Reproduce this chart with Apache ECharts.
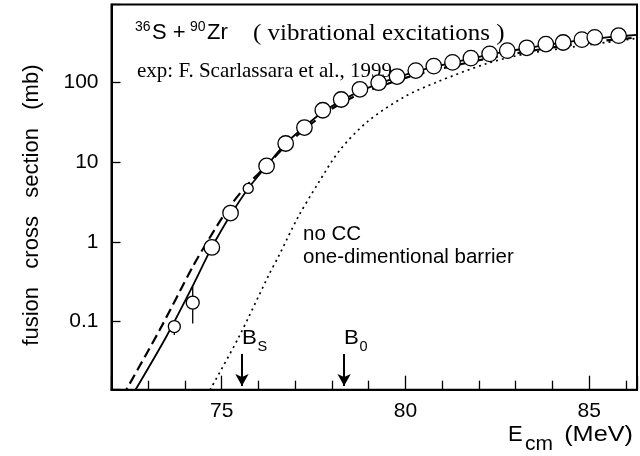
<!DOCTYPE html>
<html><head><meta charset="utf-8">
<script src="https://cdn.jsdelivr.net/npm/echarts@6/dist/echarts.min.js"></script>
<style>html,body{margin:0;padding:0;background:#fff}#c{width:640px;height:456px}</style>
</head><body><div id="c"></div>
<script>
// ---- data ----
const expE = [73.71,74.21,74.73,75.24,75.72,76.22,76.74,77.25,77.75,78.25,78.76,79.27,79.77,80.28,80.77,81.28,81.78,82.29,82.77,83.30,83.82,84.29,84.80,85.15,85.80];
const expSigma = [0.087,0.173,0.85,2.29,4.65,8.9,17.0,26.9,44.3,60.4,81,98,117,139,158,176,199,225,247,268,298,312,339,362,380];
const errE = [73.71,74.21];
const errLow = [0.068,0.095];
const errHigh = [0.087,0.274];

const ccE = [72.6,73.49,74.2,74.73,75.24,75.72,76.22,76.74,77.25,77.75,78.25,78.76,79.27,79.77,80.28,80.77,81.28,81.78,82.29,82.77,83.3,83.82,84.29,84.8,85.3,85.8,86.3];
const ccSigma = [0.0128,0.0649,0.274,0.85,2.16,4.65,8.9,17.0,27.5,42,58,77,95,114,135,155,174,196,220,242,265,290,310,335,355,372,388];

const cc2E = [72.3,73.31,74.21,74.66,75.2,75.69,76.19,76.74,77.25,77.75,78.25,78.76,79.27,79.77,80.28,80.77,81.28,81.78,82.29,82.77,83.3,83.82,84.29,84.8,85.3,85.8,86.3];
const cc2Sigma = [0.0116,0.0787,0.487,1.10,2.69,5.12,8.66,16.0,25.5,39,54,71,87,104,123,141,158,178,199,219,240,263,283,305,325,343,360];

const noccE = [74.6,75.47,76.28,76.54,77.08,77.62,78.21,78.97,79.96,80.86,82.21,83.29,84.64,86.3];
const noccSigma = [0.012,0.0649,0.384,0.65,2.05,5.37,14.0,32,64.9,100,170,226,278,352];

const barrierE = [75.55, 78.33];
const barrierNames = ['S', '0'];
const arrowTop = 0.0394, arrowEnd = 0.0157;

const xTicks = [75, 80, 85];
const xTickLabels = ['75', '80', '85'];
const yTicks = [0.1, 1, 10, 100];
const yTickLabels = ['0.1', '1', '10', '100'];

const xRange = [72, 86.3];
const yRange = [0.01409, 933];

// ---- chart ----
const SANS = '"Liberation Sans", Arial, sans-serif';
const SERIF = '"Liberation Serif", "Times New Roman", serif';
const zip = (a, b) => a.map((v, i) => [v, b[i]]);

const chart = echarts.init(document.getElementById('c'), null, {renderer: 'canvas'});

function tickFmt(ticks, labels, log) {
  return v => {
    for (let i = 0; i < ticks.length; i++) {
      const d = log ? Math.abs(Math.log10(v) - Math.log10(ticks[i])) : Math.abs(v - ticks[i]);
      if (d < 1e-6) return labels[i];
    }
    return '';
  };
}
function txt(x, y, text, size, family, extra, align) {
  return Object.assign({type: 'text', x: x, y: y,
    style: {x: 0, y: 0, text: text, font: size + 'px ' + family, fill: '#000', textVerticalAlign: 'middle', textAlign: align || 'left'}}, extra || {});
}

const option = {
  animation: false,
  backgroundColor: '#fff',
  grid: {left: 111.5, top: 4.5, right: -1.5, bottom: 66.3, show: true, borderColor: '#000', borderWidth: 2, backgroundColor: 'transparent'},
  xAxis: {
    type: 'value', min: xRange[0], max: xRange[1], splitNumber: 3,
    axisLine: {lineStyle: {color: '#000', width: 2}},
    axisTick: {inside: true, length: 14, lineStyle: {color: '#000', width: 1.3}},
    minorTick: {show: true, splitNumber: 5, length: 9, lineStyle: {color: '#000', width: 1.3}},
    axisLabel: {color: '#000', fontSize: 21, fontFamily: SANS, margin: 11, formatter: tickFmt(xTicks, xTickLabels, false)},
    splitLine: {show: false}
  },
  yAxis: {
    type: 'log', logBase: 10, min: yRange[0], max: yRange[1],
    axisLine: {lineStyle: {color: '#000', width: 2}},
    axisTick: {inside: true, length: 9, lineStyle: {color: '#000', width: 1.3}},
    axisLabel: {color: '#000', fontSize: 21, fontFamily: SANS, margin: 13, formatter: tickFmt(yTicks, yTickLabels, true)},
    splitLine: {show: false},
    name: 'fusion   cross   section   (mb)', nameLocation: 'middle', nameGap: 69, nameRotate: 90,
    nameTextStyle: {color: '#000', fontSize: 22, fontFamily: SANS, padding: [0, 16, 0, 0]}
  },
  series: [
    {
      name: 'no CC', type: 'line', data: zip(noccE, noccSigma), symbol: 'none', smooth: 0.3,
      lineStyle: {color: '#000', width: 1.7, type: [2, 4]}, z: 2,
      markLine: {
        silent: true, symbol: ['none', 'arrow'], symbolSize: [10, 12],
        lineStyle: {color: '#000', width: 2, type: 'solid'}, label: {show: false},
        data: barrierE.map(e => [{coord: [e, arrowTop]}, {coord: [e, arrowEnd]}])
      }
    },
    {
      name: 'CC dashed', type: 'line', data: zip(cc2E, cc2Sigma), symbol: 'none', smooth: 0.3,
      lineStyle: {color: '#000', width: 2.2, type: [10, 5]}, z: 3
    },
    {
      name: 'CC', type: 'line', data: zip(ccE, ccSigma), symbol: 'none', smooth: 0.3,
      lineStyle: {color: '#000', width: 1.8}, z: 4
    },
    {
      name: 'err', type: 'custom', z: 5,
      data: errE.map((e, i) => [e, errLow[i], errHigh[i]]),
      encode: {x: 0, y: [1, 2]},
      renderItem: (params, api) => {
        const p1 = api.coord([api.value(0), api.value(1)]);
        const p2 = api.coord([api.value(0), api.value(2)]);
        return {type: 'line', shape: {x1: p1[0], y1: p1[1], x2: p2[0], y2: p2[1]}, style: {stroke: '#000', lineWidth: 1.3}};
      }
    },
    {
      name: 'exp', type: 'scatter', data: zip(expE, expSigma), z: 6,
      symbol: 'circle',
      symbolSize: (v, p) => (p.dataIndex === 4 ? 10 : p.dataIndex === 0 ? 12 : p.dataIndex === 1 ? 13 : 15.5),
      itemStyle: {color: '#fff', borderColor: '#000', borderWidth: 1.3, opacity: 1}
    }
  ],
  graphic: [
    txt(135, 27, '36', 14, SANS),
    txt(152, 33, 'S + ', 22, SANS),
    txt(190, 27, '90', 14, SANS),
    txt(207, 33, 'Zr', 22, SANS),
    txt(253, 34, '( vibrational excitations )', 24, SERIF, {scaleX: 1.04}),
    txt(137, 71.5, 'exp: F. Scarlassara et al., 1999', 21, SERIF),
    txt(303, 234.5, 'no CC', 20.5, SANS),
    txt(303, 257, 'one-dimentional barrier', 20.5, SANS),
    txt(508, 435, 'E', 22, SANS),
    txt(525, 444, 'cm', 20, SANS, {scaleX: 1.05}),
    txt(633, 435, '(MeV)', 22, SANS, {scaleX: 1.15}, 'right')
  ]
};
chart.setOption(option);

// barrier labels placed just above the arrows, from the axis scales
const extra = [];
barrierE.forEach((e, i) => {
  const p = chart.convertToPixel({gridIndex: 0}, [e, arrowTop]);
  extra.push(txt(p[0], p[1] - 16, 'B', 21, SANS, {scaleX: 1.06}));
  extra.push(txt(p[0] + 15.5, p[1] - 7, barrierNames[i], 14.5, SANS));
});
chart.setOption({graphic: option.graphic.concat(extra)});
</script>
</body></html>
